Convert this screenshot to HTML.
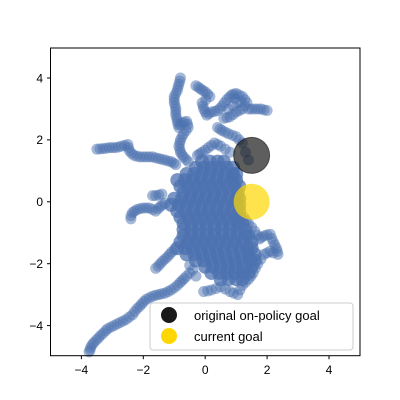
<!DOCTYPE html>
<html><head><meta charset="utf-8"><style>
body{margin:0;background:#fff;}
svg{display:block;font-family:"Liberation Sans","DejaVu Sans",sans-serif;}
</style></head><body>
<svg id="chart" width="400" height="400" xmlns="http://www.w3.org/2000/svg">
<rect width="400" height="400" fill="#fff"/>
<g id="pts"></g>
<g id="goals"></g>
<rect x="50.5" y="48" width="309.5" height="307.7" fill="none" stroke="#000" stroke-width="1"/>
<g id="xt"></g>
<g id="yt"></g>
<g>
<rect x="150" y="303" width="203" height="47" rx="3" fill="#fff" fill-opacity="0.8" stroke="#ccc"/>
<circle cx="169" cy="315" r="8" fill="#1a1a1a"/>
<text x="194" y="320" font-size="13">original on-policy goal</text>
<circle cx="169" cy="336" r="8" fill="#ffd700"/>
<text x="194" y="341" font-size="13">current goal</text>
</g>
</svg>
<script>
const xTicks=[-4,-2,0,2,4];
const yTicks=[-4,-2,0,2,4];
const trailPoints=[
[-3.75,-4.85],[-3.72,-4.78],[-3.7,-4.7],[-3.65,-4.62],[-3.6,-4.55],[-3.52,-4.47],[-3.45,-4.4],[-3.38,-4.32],[-3.3,-4.25],[-3.22,-4.17],[-3.15,-4.1],[-3.05,-4.05],[-2.95,-4.0],[-2.85,-3.95],[-2.75,-3.9],[-2.65,-3.85],[-2.55,-3.8],[-2.45,-3.72],[-2.35,-3.65],[-2.28,-3.55],[-2.2,-3.45],[-2.12,-3.38],[-2.05,-3.3],[-1.98,-3.22],[-1.9,-3.15],[-1.8,-3.1],[-1.7,-3.05],[-1.6,-3.02],[-1.5,-3.0],[-1.4,-2.97],[-1.3,-2.95],[-1.2,-2.9],[-1.1,-2.85],[-1.0,-2.78],[-0.9,-2.7],[-0.82,-2.62],[-0.75,-2.55],[-0.68,-2.48],[-0.6,-2.4],[-0.5,-2.3],
[-1.6,-2.15],[-1.52,-2.08],[-1.45,-2.0],[-1.38,-1.92],[-1.3,-1.85],[-1.22,-1.78],[-1.15,-1.7],[-1.08,-1.62],[-1.0,-1.55],
[-2.4,-0.55],[-2.4,-0.45],[-2.35,-0.35],[-2.28,-0.3],[-2.2,-0.25],[-2.1,-0.22],[-2.0,-0.2],[-1.9,-0.2],[-1.8,-0.2],[-1.7,-0.25],[-1.6,-0.3],[-1.52,-0.22],[-1.45,-0.15],[-1.38,-0.1],[-1.3,-0.05],
[-1.7,0.2],[-1.6,0.2],[-1.5,0.22],[-1.4,0.25],
[-3.5,1.7],[-3.4,1.71],[-3.3,1.72],[-3.2,1.73],[-3.1,1.75],[-3.0,1.75],[-2.9,1.75],[-2.8,1.77],[-2.7,1.8],[-2.6,1.82],[-2.5,1.85],[-2.48,1.75],[-2.45,1.65],[-2.38,1.57],[-2.3,1.5],[-2.2,1.47],[-2.1,1.45],[-2.0,1.45],[-1.9,1.45],[-1.8,1.45],[-1.7,1.45],[-1.6,1.42],[-1.5,1.4],[-1.4,1.37],[-1.3,1.35],[-1.2,1.32],[-1.1,1.3],[-1.02,1.25],[-0.95,1.2],
[-0.8,4.0],[-0.82,3.9],[-0.85,3.8],[-0.88,3.7],[-0.9,3.6],[-0.95,3.5],[-1.0,3.4],[-1.0,3.3],[-1.0,3.2],[-0.97,3.1],[-0.95,3.0],[-0.95,2.9],[-0.95,2.8],[-0.92,2.7],[-0.9,2.6],[-0.88,2.5],[-0.85,2.4],[-0.8,2.48],[-0.75,2.55],[-0.68,2.58],[-0.6,2.6],[-0.57,2.5],[-0.55,2.4],[-0.62,2.3],[-0.7,2.2],[-0.75,2.1],[-0.8,2.0],[-0.82,1.9],[-0.85,1.8],[-0.82,1.7],[-0.8,1.6],[-0.75,1.52],[-0.7,1.45],[-0.62,1.37],[-0.55,1.3],
[-0.3,3.75],[-0.22,3.7],[-0.15,3.65],[-0.08,3.6],[0.0,3.55],[0.08,3.48],[0.15,3.4],[0.02,3.3],[-0.1,3.2],[-0.07,3.1],[-0.05,3.0],[0.0,2.9],[0.05,2.8],[0.12,2.85],[0.2,2.9],[0.3,2.92],[0.4,2.95],[0.48,3.02],[0.55,3.1],[0.62,3.2],[0.7,3.3],[0.78,3.38],[0.85,3.45],[0.92,3.48],[1.0,3.5],[1.1,3.45],[1.2,3.4],[1.28,3.3],[1.35,3.2],[1.28,3.1],[1.2,3.0],[1.1,2.95],[1.0,2.9],[0.9,2.82],[0.8,2.75],[0.7,2.72],[0.6,2.7],[1.05,3.2],[0.9,3.1],[0.95,3.35],[0.75,3.0],[1.15,3.25],[1.4,3.0],[1.5,3.0],[1.6,3.0],[1.7,3.0],[1.8,3.0],[1.9,2.97],[2.0,2.95],
[0.4,2.4],[0.48,2.35],[0.55,2.3],[0.65,2.25],[0.75,2.2],[0.88,2.15],[1.0,2.1],[1.1,2.0],[1.2,1.9],[0.3,1.9],[0.2,1.82],[0.1,1.75],[0.0,1.67],[-0.1,1.6],[-0.18,1.55],[-0.25,1.5],[0.4,1.85],[0.5,1.8],[0.65,1.7],[0.8,1.6],[1.3,1.6],[1.4,1.35],
[1.25,-0.5],[1.32,-0.6],[1.4,-0.7],[1.5,-0.82],[1.6,-0.95],[1.68,-1.08],[1.75,-1.2],[1.82,-1.15],[1.9,-1.1],[2.0,-1.07],[2.1,-1.05],[2.15,-1.18],[2.2,-1.3],[2.25,-1.4],[2.3,-1.5],[2.33,-1.6],[2.35,-1.7],[2.2,-1.65],[2.1,-1.6],[2.0,-1.65],[1.9,-1.7],[1.8,-1.85],[1.7,-2.0],[1.62,-2.15],[1.55,-2.3],[1.48,-2.4],[1.4,-2.5],[1.3,-2.6],[1.2,-2.7],[1.12,-2.85],[1.05,-3.0],[0.92,-2.95],[0.8,-2.9],[0.65,-2.82],[0.5,-2.75],[0.35,-2.8],[0.2,-2.85],[0.08,-2.88],[-0.05,-2.9],[-0.3,-2.4],[-0.4,-2.2],[-0.5,-2.05]
];
const blobPoints=[
[-0.1,1.3],[0.15,1.3],[0.4,1.3],[0.6,1.3],
[-0.3,1.1],[-0.05,1.1],[0.2,1.1],[0.45,1.1],[0.7,1.1],[0.9,1.1],
[-0.6,0.9],[-0.35,0.9],[-0.1,0.9],[0.15,0.9],[0.4,0.9],[0.65,0.9],[0.9,0.9],[1.0,0.9],
[-0.9,0.7],[-0.65,0.7],[-0.4,0.7],[-0.15,0.7],[0.1,0.7],[0.35,0.7],[0.6,0.7],[0.85,0.7],[1.0,0.7],
[-0.8,0.5],[-0.55,0.5],[-0.3,0.5],[-0.05,0.5],[0.2,0.5],[0.45,0.5],[0.7,0.5],[0.95,0.5],[1.1,0.5],
[-0.7,0.3],[-0.45,0.3],[-0.2,0.3],[0.05,0.3],[0.3,0.3],[0.55,0.3],[0.8,0.3],[1.05,0.3],
[-1.0,0.1],[-0.75,0.1],[-0.5,0.1],[-0.25,0.1],[0,0.1],[0.25,0.1],[0.5,0.1],[0.75,0.1],[1.0,0.1],[1.1,0.1],
[-1.1,-0.1],[-0.85,-0.1],[-0.6,-0.1],[-0.35,-0.1],[-0.1,-0.1],[0.15,-0.1],[0.4,-0.1],[0.65,-0.1],[0.9,-0.1],[1.1,-0.1],
[-0.9,-0.3],[-0.65,-0.3],[-0.4,-0.3],[-0.15,-0.3],[0.1,-0.3],[0.35,-0.3],[0.6,-0.3],[0.85,-0.3],[1.1,-0.3],
[-0.8,-0.5],[-0.55,-0.5],[-0.3,-0.5],[-0.05,-0.5],[0.2,-0.5],[0.45,-0.5],[0.7,-0.5],[0.95,-0.5],[1.1,-0.5],
[-0.7,-0.7],[-0.45,-0.7],[-0.2,-0.7],[0.05,-0.7],[0.3,-0.7],[0.55,-0.7],[0.8,-0.7],[1.05,-0.7],[1.2,-0.7],
[-0.7,-0.9],[-0.45,-0.9],[-0.2,-0.9],[0.05,-0.9],[0.3,-0.9],[0.55,-0.9],[0.8,-0.9],[1.05,-0.9],[1.3,-0.9],
[-0.7,-1.1],[-0.45,-1.1],[-0.2,-1.1],[0.05,-1.1],[0.3,-1.1],[0.55,-1.1],[0.8,-1.1],[1.05,-1.1],[1.3,-1.1],[1.4,-1.1],
[-0.8,-1.3],[-0.55,-1.3],[-0.3,-1.3],[-0.05,-1.3],[0.2,-1.3],[0.45,-1.3],[0.7,-1.3],[0.95,-1.3],[1.2,-1.3],[1.5,-1.3],
[-0.9,-1.5],[-0.65,-1.5],[-0.4,-1.5],[-0.15,-1.5],[0.1,-1.5],[0.35,-1.5],[0.6,-1.5],[0.85,-1.5],[1.1,-1.5],[1.35,-1.5],[1.5,-1.5],
[-0.6,-1.7],[-0.35,-1.7],[-0.1,-1.7],[0.15,-1.7],[0.4,-1.7],[0.65,-1.7],[0.9,-1.7],[1.15,-1.7],[1.4,-1.7],[1.6,-1.7],
[-0.3,-1.9],[-0.05,-1.9],[0.2,-1.9],[0.45,-1.9],[0.7,-1.9],[0.95,-1.9],[1.2,-1.9],[1.45,-1.9],[1.6,-1.9],
[0,-2.1],[0.25,-2.1],[0.5,-2.1],[0.75,-2.1],[1.0,-2.1],[1.25,-2.1],[1.5,-2.1],
[0.2,-2.3],[0.45,-2.3],[0.7,-2.3],[0.95,-2.3],[1.2,-2.3],[1.4,-2.3],
[0.5,-2.5],[0.75,-2.5],[1.0,-2.5],[1.2,-2.5]
];
const originalGoal=[1.5,1.5];
const currentGoal=[1.5,0];

const NS="http://www.w3.org/2000/svg";
const X0=205.2,Y0=201.8,S=30.95;
function sx(v){return X0+v*S;}
function sy(v){return Y0-v*S;}
const pts=document.getElementById('pts');
function dot(p,r,op){
  const c=document.createElementNS(NS,'circle');
  c.setAttribute('cx',sx(p[0]));c.setAttribute('cy',sy(p[1]));c.setAttribute('r',r);
  c.setAttribute('fill','#4c72b0');c.setAttribute('fill-opacity',op);
  
  
  pts.appendChild(c);
}
blobPoints.forEach(p=>dot(p,7,0.75));
trailPoints.forEach(p=>dot(p,5.5,0.5));
const goals=document.getElementById('goals');
const g1=document.createElementNS(NS,'circle');
g1.setAttribute('cx',sx(originalGoal[0]));g1.setAttribute('cy',sy(originalGoal[1]));g1.setAttribute('r',18);
g1.setAttribute('fill','#1a1a1a');g1.setAttribute('fill-opacity','0.7');g1.setAttribute('stroke','#111');g1.setAttribute('stroke-opacity','0.6');


goals.appendChild(g1);
const g2=document.createElementNS(NS,'circle');
g2.setAttribute('cx',sx(currentGoal[0]));g2.setAttribute('cy',sy(currentGoal[1]));g2.setAttribute('r',18);
g2.setAttribute('fill','#ffd700');g2.setAttribute('fill-opacity','0.7');


goals.appendChild(g2);
const xt=document.getElementById('xt');
xTicks.forEach(t=>{
  const l=document.createElementNS(NS,'line');
  l.setAttribute('x1',sx(t));l.setAttribute('x2',sx(t));l.setAttribute('y1',355.7);l.setAttribute('y2',359.2);l.setAttribute('stroke','#000');
  
  
  xt.appendChild(l);
  const tx=document.createElementNS(NS,'text');
  tx.setAttribute('x',sx(t));tx.setAttribute('y',374);tx.setAttribute('font-size','12');tx.setAttribute('text-anchor','middle');
  tx.textContent=(t<0?'\u2212':'')+Math.abs(t);
  
  
  xt.appendChild(tx);
});
const yt=document.getElementById('yt');
yTicks.forEach(t=>{
  const l=document.createElementNS(NS,'line');
  l.setAttribute('x1',47);l.setAttribute('x2',50.5);l.setAttribute('y1',sy(t));l.setAttribute('y2',sy(t));l.setAttribute('stroke','#000');
  
  
  yt.appendChild(l);
  const tx=document.createElementNS(NS,'text');
  tx.setAttribute('x',43);tx.setAttribute('y',sy(t)+4.3);tx.setAttribute('font-size','12');tx.setAttribute('text-anchor','end');
  tx.textContent=(t<0?'\u2212':'')+Math.abs(t);
  
  
  yt.appendChild(tx);
});
</script>
</body></html>
